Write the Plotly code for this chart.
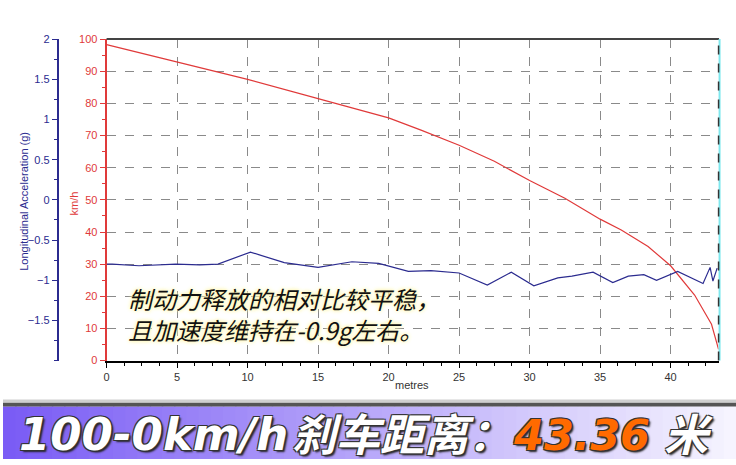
import plotly.graph_objects as go

W, H = 736, 465

# ---- data ----
speed_dist = [0, 5, 10, 15, 20, 22.3, 25, 27.5, 30, 32.5, 35, 36.5, 38.4, 40, 41.7, 42.9, 43.3, 43.4]
speed_kmh = [98.3, 93, 87.5, 81.5, 75.5, 71.7, 67, 62, 56, 50.5, 44, 40.6, 35.5, 29.5, 20.4, 11.3, 5, 3.5]

acc_dist = [0, 0.4, 2.3, 4.9, 6.6, 7.9, 10.2, 12.6, 15.0, 17.4, 19.3, 21.4, 23.0, 25.0, 27.0,
            28.7, 30.3, 32.0, 33.0, 34.5, 35.9, 37.0, 38.1, 39.0, 40.5, 41.4, 42.3, 42.8, 43.0, 43.3]
acc_g = [-0.80, -0.80, -0.82, -0.80, -0.81, -0.80, -0.65, -0.78, -0.84, -0.77, -0.79, -0.89, -0.88,
         -0.91, -1.06, -0.90, -1.07, -0.97, -0.95, -0.90, -1.03, -0.95, -0.93, -1.00, -0.89, -0.96,
         -1.04, -0.84, -1.01, -0.85]

x_ticks = [0, 5, 10, 15, 20, 25, 30, 35, 40]
kmh_ticks = [0, 10, 20, 30, 40, 50, 60, 70, 80, 90, 100]
g_ticks = [-1.5, -1, -0.5, 0, 0.5, 1, 1.5, 2]

note_lines = ["制动力释放的相对比较平稳，", "且加速度维持在-0.9g左右。"]
banner_prefix = "100-0km/h"
banner_cjk = "刹车距离："
banner_value = "43.36"
banner_unit = "米"

# ---- geometry (pixels -> paper) ----
def px(x):
    return x / W

def py(y):
    return 1 - y / H

RED = "#e03a3a"
BLUE = "#2b2b8f"

fig = go.Figure()
fig.add_trace(go.Scatter(x=speed_dist, y=speed_kmh, mode="lines",
                         line=dict(color=RED, width=1.2), yaxis="y", showlegend=False,
                         hoverinfo="skip"))
fig.add_trace(go.Scatter(x=acc_dist, y=acc_g, mode="lines",
                         line=dict(color=BLUE, width=1.2), yaxis="y2", showlegend=False,
                         hoverinfo="skip"))

tickfont = dict(family="Liberation Sans, Arial, sans-serif", size=11)

fig.update_layout(
    width=W, height=H,
    margin=dict(l=0, r=0, t=0, b=0),
    paper_bgcolor="white", plot_bgcolor="white",
    xaxis=dict(domain=[px(104), px(718.5)], range=[0, 43.4],
               tickvals=x_ticks, ticks="outside", ticklen=5, tickcolor="black",
               tickfont=dict(tickfont, color="#333"),
               showline=True, linecolor="black", linewidth=2,
               showgrid=True, gridcolor="#8a8a8a", griddash="dash", gridwidth=1,
               zeroline=False,
               minor=dict(ticks="outside", dtick=1.25, ticklen=3, tickcolor="black", showgrid=False)),
    yaxis=dict(domain=[py(364), py(34)], range=[0, 100],
               tickvals=kmh_ticks, ticks="outside", ticklen=5, tickcolor=RED,
               tickfont=dict(tickfont, color=RED),
               showline=True, linecolor=RED, linewidth=2,
               showgrid=True, gridcolor="#8a8a8a", griddash="dash", gridwidth=1,
               zeroline=False,
               minor=dict(ticks="outside", dtick=5, ticklen=3, tickcolor=RED, showgrid=False)),
    yaxis2=dict(overlaying="y", anchor="free", position=px(55), side="left",
                range=[-2, 2], tickvals=g_ticks, ticks="outside", ticklen=5, tickcolor=BLUE,
                tickfont=dict(tickfont, color=BLUE),
                showline=True, linecolor=BLUE, linewidth=2,
                showgrid=False, zeroline=False,
                minor=dict(ticks="outside", dtick=0.25, ticklen=3, tickcolor=BLUE, showgrid=False)),
)

shapes = []
# top border and right edge
shapes.append(dict(type="line", xref="paper", yref="paper", x0=px(104), x1=px(719),
                   y0=py(34), y1=py(34), line=dict(color="#444", width=2)))
shapes.append(dict(type="line", xref="paper", yref="paper", x0=px(719.5), x1=px(719.5),
                   y0=py(364), y1=py(34), line=dict(color="#7ee8ee", width=2)))
shapes.append(dict(type="line", xref="paper", yref="paper", x0=px(718.5), x1=px(718.5),
                   y0=py(364), y1=py(34), line=dict(color="#333", width=1.5, dash="dash")))

# banner gradient
c0 = (122, 92, 245)
c1 = (246, 244, 255)
n = 60
for i in range(n):
    t = i / (n - 1)
    c = tuple(int(c0[k] + (c1[k] - c0[k]) * t) for k in range(3))
    shapes.append(dict(type="rect", xref="paper", yref="paper",
                       x0=i / n, x1=(i + 1) / n + 0.002, y0=0, y1=py(411),
                       fillcolor="rgb(%d,%d,%d)" % c, line=dict(width=0), layer="below"))
shapes.append(dict(type="rect", xref="paper", yref="paper", x0=0, x1=1,
                   y0=py(411), y1=py(407), fillcolor="#555", line=dict(width=0)))
shapes.append(dict(type="rect", xref="paper", yref="paper", x0=0, x1=1,
                   y0=py(407), y1=py(404), fillcolor="#cfcfcf", line=dict(width=0)))
fig.update_layout(shapes=shapes)

annotations = []
# axis titles
annotations.append(dict(text="Longitudinal Acceleration (g)", xref="paper", yref="paper",
                        x=px(13), y=py(200), textangle=-90, showarrow=False,
                        font=dict(family="Liberation Sans, Arial, sans-serif", size=11, color=BLUE)))
annotations.append(dict(text="km/h", xref="paper", yref="paper",
                        x=px(63), y=py(203), textangle=-90, showarrow=False,
                        font=dict(family="Liberation Sans, Arial, sans-serif", size=11, color=RED)))
annotations.append(dict(text="metres", xref="paper", yref="paper",
                        x=px(411), y=py(397), showarrow=False,
                        font=dict(family="Liberation Sans, Arial, sans-serif", size=11, color="#333")))
# note (two lines in one text block)
annotations.append(dict(text="<i>" + "<br>".join(note_lines) + "</i>", xref="paper", yref="paper",
                        x=px(124), y=py(316), xanchor="left", yanchor="middle", align="left",
                        showarrow=False,
                        font=dict(family="Noto Sans CJK SC, sans-serif", size=24, color="#111",
                                  shadow="0 0 4px #fff6b0, 0 0 4px #fff6b0, 0 0 2px #fffbd8")))
# banner text
outline = ("-1px -1px 0 #333, 1px -1px 0 #333, -1px 1px 0 #333, 1px 1px 0 #333, "
           "2px 2px 2px #222")
latin = dict(family="DejaVu Sans, sans-serif", color="white", shadow=outline)
cjk = dict(family="Noto Sans CJK SC, sans-serif", color="white", shadow=outline)
annotations.append(dict(
    text="<b><i>" + banner_prefix + "</i></b>",
    xref="paper", yref="paper", x=px(14), y=py(440), xanchor="left", yanchor="middle",
    showarrow=False, font=dict(latin, size=45)))
annotations.append(dict(
    text="<b><i>" + banner_cjk + "</i></b>",
    xref="paper", yref="paper", x=px(288), y=py(437), xanchor="left", yanchor="middle",
    showarrow=False, font=dict(cjk, size=44)))
annotations.append(dict(
    text="<b><i>" + banner_value + "</i></b>",
    xref="paper", yref="paper", x=px(581), y=py(440), xanchor="center", yanchor="middle",
    showarrow=False, font=dict(latin, size=43, color="#ff6a00")))
annotations.append(dict(
    text="<b><i>" + banner_unit + "</i></b>",
    xref="paper", yref="paper", x=px(688), y=py(437), xanchor="center", yanchor="middle",
    showarrow=False, font=dict(cjk, size=44)))
fig.update_layout(annotations=annotations)

fig.write_html(
    "out.html",
    config={"displayModeBar": False},
    post_script=(
        "document.body.style.margin='0';document.body.style.padding='0';"
        "document.body.style.overflow='hidden';"
    ),
)
